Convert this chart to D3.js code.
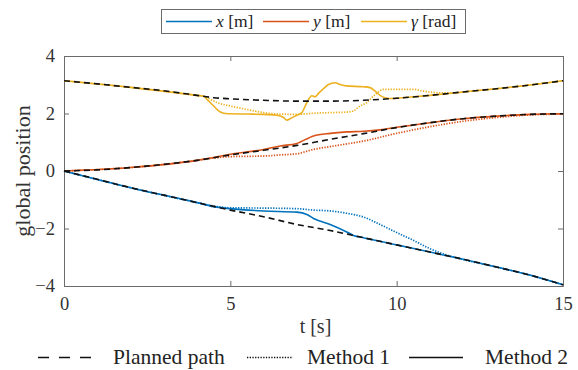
<!DOCTYPE html>
<html>
<head>
<meta charset="utf-8">
<script src="https://cdn.jsdelivr.net/npm/d3@7"></script>
<style>
  body { margin: 0; background: #fff; }
</style>
</head>
<body>
<svg id="chart" width="578" height="370"></svg>
<script>
// Time stamps and positions for each path component [t, value]
const plannedX = [[0,0],[1,-0.29],[2,-0.58],[3,-0.84],[4,-1.10],[5,-1.36],[6,-1.59],[7,-1.86],[8,-2.07],[9,-2.32],[10,-2.57],[11,-2.82],[12,-3.07],[13,-3.34],[14,-3.62],[15,-3.96]];
const plannedY = [[0,0],[1,0.04],[2,0.12],[3,0.23],[4,0.37],[5,0.56],[6,0.72],[7,0.89],[8,1.10],[9,1.30],[10,1.51],[11,1.68],[12,1.82],[13,1.91],[14,1.97],[15,1.99]];
const plannedG = [[0,3.14],[1,3.03],[2,2.91],[3,2.79],[4,2.63],[4.5,2.55],[5,2.51],[6,2.46],[7,2.43],[8,2.43],[9,2.46],[10,2.53],[11,2.63],[12,2.75],[13,2.86],[14,2.99],[15,3.14]];

const method1X = [[0,0],[2,-0.58],[4,-1.10],[4.5,-1.22],[5,-1.28],[6,-1.29],[7,-1.31],[7.5,-1.36],[8,-1.39],[8.5,-1.47],[9,-1.60],[9.5,-1.86],[10,-2.14],[10.5,-2.41],[11,-2.70],[11.5,-2.92],[12,-3.08],[13,-3.34],[14,-3.62],[15,-3.96]];
const method1Y = [[0,0],[2,0.12],[4,0.37],[4.5,0.45],[5,0.50],[6,0.52],[6.5,0.56],[7,0.60],[7.5,0.75],[8,0.85],[9,1.04],[10,1.31],[11,1.54],[12,1.73],[13,1.86],[14,1.95],[15,1.98]];
const method1G = [[0,3.14],[2,2.91],[4,2.63],[4.2,2.60],[4.6,2.38],[5,2.26],[5.5,2.14],[6,2.03],[6.5,1.98],[7,1.97],[7.5,2.01],[8,2.03],[8.5,2.05],[8.7,2.09],[8.9,2.26],[9.1,2.38],[9.25,2.55],[9.4,2.70],[9.6,2.84],[10,2.84],[10.5,2.84],[10.8,2.78],[11.3,2.72],[11.8,2.72],[12,2.75],[13,2.86],[14,2.99],[15,3.14]];

const method2X = [[0,0],[2,-0.58],[4,-1.10],[4.5,-1.24],[5,-1.31],[6,-1.39],[7,-1.43],[7.3,-1.51],[7.5,-1.65],[8,-1.86],[8.5,-2.12],[8.7,-2.24],[9,-2.32],[10,-2.57],[11,-2.82],[12,-3.07],[13,-3.34],[14,-3.62],[15,-3.96]];
const method2Y = [[0,0],[2,0.12],[4,0.37],[4.5,0.47],[5,0.58],[6,0.75],[6.5,0.87],[7,0.96],[7.5,1.22],[8,1.31],[8.5,1.36],[9,1.38],[9.5,1.43],[10,1.52],[11,1.68],[12,1.82],[13,1.91],[14,1.97],[15,1.99]];
const method2G = [[0,3.14],[2,2.91],[4,2.63],[4.2,2.60],[4.3,2.49],[4.5,2.26],[4.7,2.05],[4.85,2.00],[5.5,1.98],[6,1.97],[6.4,1.94],[6.6,1.86],[6.7,1.77],[6.8,1.82],[7.0,1.94],[7.15,2.03],[7.3,2.38],[7.45,2.62],[7.55,2.58],[7.65,2.70],[7.8,2.86],[7.95,3.01],[8.15,3.07],[8.3,3.01],[8.5,2.96],[9.0,2.93],[9.2,2.90],[9.35,2.78],[9.5,2.63],[9.65,2.55],[9.9,2.52],[10,2.53],[11,2.63],[12,2.75],[13,2.86],[14,2.99],[15,3.14]];

const xTicks = [0, 5, 10, 15];
const yTicks = [-4, -2, 0, 2, 4];
const componentLabels = [["x", " [m]"], ["y", " [m]"], ["γ", " [rad]"]];
const styleLabels = ["Planned path", "Method 1", "Method 2"];

const colors = ["#0072BD", "#D95319", "#EDB120"];
const axisColor = "#6b6b6b";
const serif = "'Liberation Serif', 'Times New Roman', 'DejaVu Serif', serif";

const svg = d3.select("#chart");
const plotLeft = 64, plotRight = 563, plotTop = 56, plotBottom = 286;

const x = d3.scaleLinear().domain([0, 15]).range([plotLeft, plotRight]);
const y = d3.scaleLinear().domain([-4, 4]).range([plotBottom, plotTop]);

const line = d3.line().x(d => x(d[0])).y(d => y(d[1])).curve(d3.curveMonotoneX);

// Axes box with inward ticks on all four sides
const gBottom = svg.append("g").attr("transform", `translate(0,${plotBottom})`)
  .call(d3.axisBottom(x).tickValues(xTicks).tickSizeInner(-5).tickSizeOuter(0).tickPadding(11));
const gTop = svg.append("g").attr("transform", `translate(0,${plotTop})`)
  .call(d3.axisTop(x).tickValues(xTicks).tickSizeInner(-5).tickSizeOuter(0).tickFormat(""));
const gLeft = svg.append("g").attr("transform", `translate(${plotLeft},0)`)
  .call(d3.axisLeft(y).tickValues(yTicks).tickSizeInner(-5).tickSizeOuter(0).tickPadding(9));
const gRight = svg.append("g").attr("transform", `translate(${plotRight},0)`)
  .call(d3.axisRight(y).tickValues(yTicks).tickSizeInner(-5).tickSizeOuter(0).tickFormat(""));

[gBottom, gTop, gLeft, gRight].forEach(g => {
  g.attr("font-family", null);
  g.select(".domain").attr("stroke", axisColor).attr("stroke-width", 1);
  g.selectAll(".tick line").attr("stroke", axisColor);
  g.selectAll(".tick text").attr("fill", "#333").style("font-size", "18.5px");
});
gBottom.selectAll(".tick text").attr("dy", "0.71em");

// Axis titles
svg.append("text").attr("x", (plotLeft + plotRight) / 2 + 2).attr("y", 333)
  .attr("text-anchor", "middle").attr("fill", "#333").style("font-size", "20px").text("t [s]");
svg.append("text").attr("transform", `translate(30,${(plotTop + plotBottom) / 2}) rotate(-90)`)
  .attr("text-anchor", "middle").attr("fill", "#333").style("font-size", "22px").text("global position");

// Data lines: method paths first, planned path dashed on top
const plot = svg.append("g");
const comps = [
  [plannedX, method1X, method2X],
  [plannedY, method1Y, method2Y],
  [plannedG, method1G, method2G]
];
comps.forEach((c, i) => {
  plot.append("path").datum(c[1]).attr("d", line).attr("fill", "none")
    .attr("stroke", colors[i]).attr("stroke-width", 1.7).attr("stroke-dasharray", "1.3,1.4");
  plot.append("path").datum(c[2]).attr("d", line).attr("fill", "none")
    .attr("stroke", colors[i]).attr("stroke-width", 1.6);
});
comps.forEach(c => {
  plot.append("path").datum(c[0]).attr("d", line).attr("fill", "none")
    .attr("stroke", "#111").attr("stroke-width", 1.6).attr("stroke-dasharray", "6,4");
});

// Top legend: colour per component
const lg = svg.append("g");
lg.append("rect").attr("x", 161.5).attr("y", 9.5).attr("width", 304).attr("height", 24)
  .attr("fill", "#fff").attr("stroke", axisColor).attr("stroke-width", 1);
const itemX = [166, 263, 361];
componentLabels.forEach((lab, i) => {
  lg.append("line").attr("x1", itemX[i]).attr("x2", itemX[i] + 46).attr("y1", 21.5).attr("y2", 21.5)
    .attr("stroke", colors[i]).attr("stroke-width", 1.6);
  const t = lg.append("text").attr("x", itemX[i] + 50).attr("y", 27).attr("fill", "#222").style("font-size", "17.5px");
  t.append("tspan").style("font-style", "italic").text(lab[0]);
  t.append("tspan").text(lab[1]);
});

// Bottom legend: line style per method
const bl = svg.append("g");
const sampleX = [[38, 96], [247, 293], [409, 463]];
const dashes = ["11,10", "1.3,1.4", null];
const textX = [113, 307, 485];
styleLabels.forEach((lab, i) => {
  const l = bl.append("line").attr("x1", sampleX[i][0]).attr("x2", sampleX[i][1])
    .attr("y1", 357.5).attr("y2", 357.5).attr("stroke", "#111").attr("stroke-width", 1.6);
  if (dashes[i]) l.attr("stroke-dasharray", dashes[i]);
  bl.append("text").attr("x", textX[i]).attr("y", 364).attr("fill", "#222")
    .style("font-size", "21.5px").text(lab);
});

svg.selectAll("text").style("font-family", serif);
</script>
</body>
</html>
